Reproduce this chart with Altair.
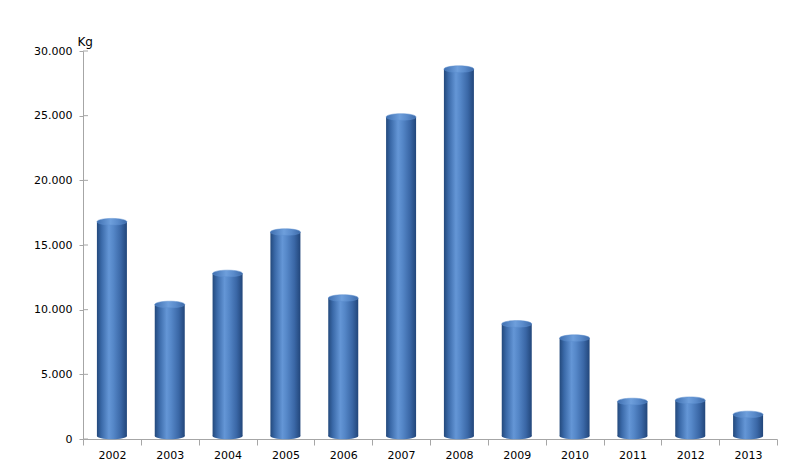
import altair as alt
import pandas as pd

years = ["2002", "2003", "2004", "2005", "2006", "2007", "2008", "2009", "2010", "2011", "2012", "2013"]
kg = [16800, 10400, 12800, 16000, 10900, 24900, 28600, 8900, 7800, 2900, 3000, 1900]
y_ticks = [0, 5000, 10000, 15000, 20000, 25000, 30000]

df = pd.DataFrame({"year": years, "kg": kg})
tick_df = pd.DataFrame({"t": y_ticks})

body = alt.LinearGradient(
    gradient="linear", x1=0, x2=1, y1=0, y2=0,
    stops=[
        alt.GradientStop(color="#23497c", offset=0.0),
        alt.GradientStop(color="#3a69a8", offset=0.15),
        alt.GradientStop(color="#6496d6", offset=0.4),
        alt.GradientStop(color="#5587c8", offset=0.55),
        alt.GradientStop(color="#3a67a6", offset=0.8),
        alt.GradientStop(color="#22467a", offset=1.0),
    ],
)
cap = alt.LinearGradient(
    gradient="linear", x1=0, x2=1, y1=0, y2=0,
    stops=[
        alt.GradientStop(color="#3f6fb0", offset=0.0),
        alt.GradientStop(color="#6e9fdc", offset=0.45),
        alt.GradientStop(color="#5a8bcb", offset=0.7),
        alt.GradientStop(color="#3d6aa8", offset=1.0),
    ],
)

ellipse = "M -1 0 A 1 0.22 0 1 0 1 0 A 1 0.22 0 1 0 -1 0 Z"

x_enc = alt.X(
    "year:N", sort=years, title=None,
    scale=alt.Scale(paddingInner=0, paddingOuter=0),
    axis=alt.Axis(labelAngle=0, tickBand="extent", tickSize=6, labelPadding=4),
)
y_scale = alt.Scale(domain=[0, 30000], nice=False)
y_axis = alt.Axis(
    values=y_ticks, tickSize=4, labelPadding=7, grid=False,
    labelExpr="replace(format(datum.value, ','), ',', '.')",
    title="Kg", titleAngle=0, titleAlign="left", titleX=-6, titleY=-3,
    titleFontWeight="normal", titleFontSize=12, titleFont="DejaVu Sans",
)

base = alt.Chart(df)

bars = base.mark_bar(size=30, fill=body, y2Offset=-3).encode(
    x=x_enc,
    y=alt.Y("kg:Q", scale=y_scale, axis=y_axis),
    y2=alt.datum(0),
)
bottom = base.mark_point(shape=ellipse, size=900, filled=True, fill=body, opacity=1, strokeWidth=0, yOffset=-3).encode(
    x=alt.X("year:N", sort=years),
    y=alt.datum(0),
)
top = base.mark_point(shape=ellipse, size=900, filled=True, fill=cap, opacity=1,
                      stroke="#5d8fcf", strokeWidth=0.5).encode(
    x=alt.X("year:N", sort=years),
    y=alt.Y("kg:Q"),
)
right_ticks = alt.Chart(tick_df).mark_rule(color="#a6a6a6", strokeWidth=1).encode(
    x=alt.value(0), x2=alt.value(5),
    y=alt.Y("t:Q", scale=y_scale),
)

chart = alt.layer(bars, bottom, top, right_ticks).properties(
    width=694, height=388,
    autosize=alt.AutoSizeParams(type="none"),
    padding={"left": 75, "top": 43, "right": 16, "bottom": 29},
).configure_view(stroke=None).configure_axis(
    domainColor="#a6a6a6", tickColor="#a6a6a6",
    labelFont="DejaVu Sans", labelFontSize=11, labelColor="#000000",
    titleColor="#000000",
)

chart.save("out.html", embed_options={"renderer": "svg", "actions": False})
